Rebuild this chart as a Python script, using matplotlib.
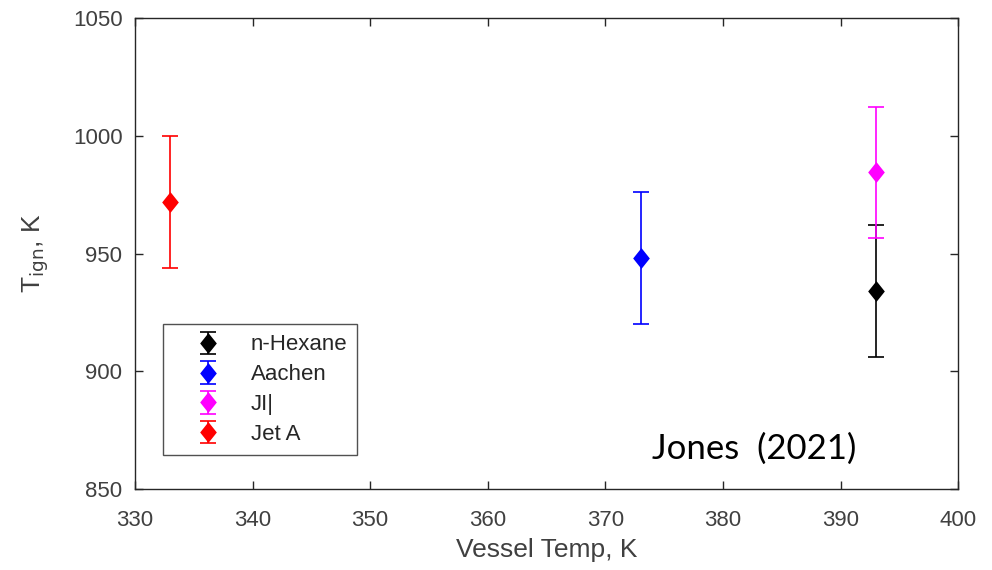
import matplotlib
matplotlib.use("Agg")
import matplotlib.pyplot as plt

plt.rcParams['font.family'] = ['Liberation Sans', 'DejaVu Sans']

labels = ["n-Hexane", "Aachen", "JI|", "Jet A"]
vessel_temp = [393, 373, 393, 333]
t_ign = [934, 948, 984.5, 972]
t_err = [28, 28, 28, 28]
colors = ["black", "blue", "magenta", "red"]

# MATLAB-style diamond, slightly taller than wide
diamond = [(0, 1), (0.8, 0), (0, -1), (-0.8, 0), (0, 1)]

fig = plt.figure(figsize=(9.92, 5.70), dpi=100)
ax = fig.add_axes([0.136, 0.142, 0.830, 0.826])

for x, y, e, c, lab in zip(vessel_temp, t_ign, t_err, colors, labels):
    cont = ax.errorbar(x, y, yerr=e, fmt='D', color=c, ecolor=c, capsize=6,
                       elinewidth=1.2, capthick=1.2, markersize=15,
                       label=lab)
    marker_line = cont.lines[0]
    marker_line.set_marker(diamond)
    marker_line.set_markeredgewidth(0)

ax.set_xlim(330, 400)
ax.set_ylim(850, 1050)
ax.set_xticks(range(330, 401, 10))
ax.set_yticks(range(850, 1051, 50))
ax.tick_params(direction='in', top=True, right=True, length=6, width=1,
               colors='#262626', labelsize=16, labelcolor='#404040')
ax.tick_params(axis='x', pad=15)
ax.tick_params(axis='y', pad=9)
for s in ax.spines.values():
    s.set_color('#262626')
    s.set_linewidth(1.0)

ax.set_xlabel("Vessel Temp, K", fontsize=19, color='#404040', labelpad=5)
ax.set_ylabel(r"T$_{\rm ign}$, K", fontsize=19, color='#404040', labelpad=16)

leg = ax.legend(loc='lower left', bbox_to_anchor=(0.034, 0.072),
                borderaxespad=0, fontsize=16, frameon=True, fancybox=False,
                edgecolor='#262626', handlelength=3.2, handletextpad=0.3,
                labelspacing=0.4, borderpad=0.45)
leg.get_frame().set_linewidth(1.0)
for t in leg.get_texts():
    t.set_color('#262626')

ax.text(0.628, 0.064, "Jones  (2021)", transform=ax.transAxes, fontsize=25,
        family='Lato', color='black', va='baseline')

fig.savefig("out.png", dpi=100)
